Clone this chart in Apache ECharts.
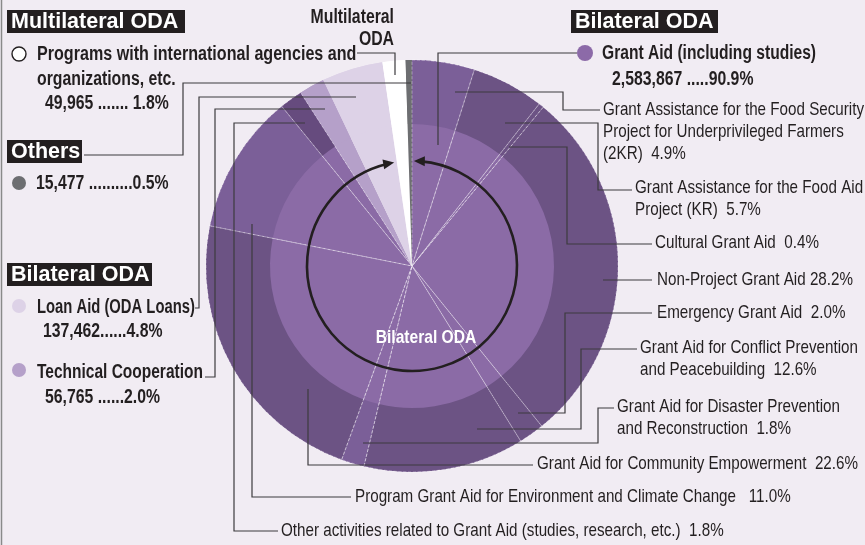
<!DOCTYPE html>
<html>
<head>
<meta charset="utf-8">
<title>ODA breakdown</title>
<script src="https://cdn.jsdelivr.net/npm/echarts@6/dist/echarts.min.js"></script>
<style>
  html, body { margin: 0; padding: 0; background: #f1ecf3; }
  #chart { width: 865px; height: 545px; }
</style>
</head>
<body>
<div id="chart"></div>
<script>
// grant aid breakdown (share of total ODA, %), clockwise from 12 o'clock
const grantNames = [
  "Grant Assistance for the Food Security\nProject for Underprivileged Farmers\n(2KR)",
  "Grant Assistance for the Food Aid\nProject (KR)",
  "Cultural Grant Aid",
  "Non-Project Grant Aid",
  "Emergency Grant Aid",
  "Grant Aid for Conflict Prevention\nand Peacebuilding",
  "Grant Aid for Disaster Prevention\nand Reconstruction",
  "Grant Aid for Community Empowerment",
  "Program Grant Aid for Environment and Climate Change",
  "Other activities related to Grant Aid (studies, research, etc.)"
];
const grantShares = [4.9, 5.7, 0.4, 28.2, 2.0, 12.6, 1.8, 22.6, 11.0, 1.8];

// whole grant aid total
const grantAmount = 2583867;
const grantShare = 90.9;

// remaining slices, continuing clockwise after grant aid
const restNames = ["Technical Cooperation", "Loan Aid (ODA Loans)", "Programs with international agencies and organizations, etc.", "Others"];
const restAmounts = [56765, 137462, 49965, 15477];
const restShares = [2.0, 4.8, 1.8, 0.5];

// ---- styles / layout ----
const CX = 412, CY = 266, R_OUT = 206, R_MID = 142, R_ARROW = 105;
const ink = "#231f20";
const lineCol = "#3d3b3e";
const innerGrant = "#8b6ba6";
const outerGrant = ["#7b5f98", "#6c5384", "#6c5384", "#6c5384", "#6c5384", "#6c5384", "#7b5f98", "#6c5384", "#7b5f98", "#664b7e"];
const restColors = ["#b5a0c9", "#ddd2e7", "#ffffff", "#6d6e71"];

// no narrow font installed, so squeeze the regular one horizontally
const fontReg = '19px "Liberation Sans", Arial, sans-serif';
const fontBold = 'bold 20px "Liberation Sans", Arial, sans-serif';
const fontHead = 'bold 21.5px "Liberation Sans", Arial, sans-serif';
const SQ_REG = 0.80, SQ_BOLD = 0.79;

// label text positions (x, centre y of first line) and gap before the %
const grantLabelPos = [[603, 110], [635, 188], [655, 243], [657, 280], [657, 313], [640, 348], [617, 407], [537, 464], [355, 497], [281, 531]];
const grantGaps = ["  ", "  ", "  ", " ", "  ", "  ", "  ", "  ", "   ", "  "];
// leader routes: label end -> inside the slice
const grantLeaders = [
  [[600, 110], [563, 110], [563, 92], [455, 92]],
  [[632, 190], [598, 190], [598, 123], [505, 123]],
  [[652, 244], [567, 244], [567, 147], [509, 147]],
  [[652, 280], [603, 280]],
  [[652, 313], [565, 313], [565, 413], [518, 413]],
  [[637, 349], [581, 349], [581, 429], [477, 429]],
  [[614, 408], [598, 408], [598, 443], [363, 443]],
  [[533, 465], [308, 465], [308, 389]],
  [[351, 497], [252, 497], [252, 224]],
  [[278, 531], [234, 531], [234, 123], [305, 123]]
];
const restLeaders = [
  [[205, 377], [215, 377], [215, 109], [325, 109]],
  [[195, 308], [199, 308], [199, 97], [356, 97]],
  [[357, 53], [395, 53], [395, 75]],
  [[84, 155], [183, 155], [183, 83], [411, 83]]
];
const grantLeader = [[577, 53], [438, 53], [438, 145]];

const fmt = v => v.toLocaleString("en-US");

// pie data: base pie (inner colour), outer ring, and a border-only overlay for the dividers
const innerData = [], outerData = [], edgeData = [];
grantNames.forEach((n, i) => {
  innerData.push({ name: n, value: grantShares[i], itemStyle: { color: innerGrant } });
  outerData.push({ name: n, value: grantShares[i], itemStyle: { color: outerGrant[i] } });
  edgeData.push({ name: n, value: grantShares[i], itemStyle: { color: "rgba(0,0,0,0)", borderColor: "rgba(255,255,255,0.45)", borderWidth: 0.8, borderType: "dashed" } });
});
restNames.forEach((n, i) => {
  innerData.push({ name: n, value: restShares[i], itemStyle: { color: restColors[i] } });
  outerData.push({ name: n, value: restShares[i], itemStyle: { color: restColors[i] } });
  edgeData.push({ name: n, value: restShares[i], itemStyle: { color: "rgba(0,0,0,0)", borderWidth: 0 } });
});

const sum = a => a.reduce((s, v) => s + v, 0);
const total = sum(grantShares) + sum(restShares);
// bilateral = grant + technical cooperation + loans
const bilateralEnd = (sum(grantShares) + restShares[0] + restShares[1]) / total * 360;

function polar(angDeg, r) {
  const a = angDeg * Math.PI / 180;
  return [CX + r * Math.sin(a), CY - r * Math.cos(a)];
}
function arrowHead(angDeg, dirSign) {
  // dirSign 1 = clockwise, -1 = counter-clockwise
  const tip = polar(angDeg, R_ARROW);
  const a = angDeg * Math.PI / 180;
  const d = [Math.cos(a) * dirSign, Math.sin(a) * dirSign];
  const nrm = [-d[1], d[0]];
  const L = 11, W = 5;
  const b = [tip[0] - d[0] * L, tip[1] - d[1] * L];
  return [tip, [b[0] + nrm[0] * W, b[1] + nrm[1] * W], [b[0] - nrm[0] * W, b[1] - nrm[1] * W]];
}

const graphics = [];
function txt(x, y, text, font, sq, extra) {
  graphics.push({
    type: "text", x: x, y: y, scaleX: sq, silent: true, z: 10,
    style: Object.assign({ text: text, font: font, fill: ink, textAlign: "left", textVerticalAlign: "middle" }, extra || {})
  });
}
function headBox(x, y, w, h, text) {
  graphics.push({ type: "rect", shape: { x: x, y: y, width: w, height: h }, style: { fill: ink }, silent: true, z: 10 });
  txt(x + 4, y + h / 2 + 1, text, fontHead, 1, { fill: "#ffffff" });
}
function dot(x, y, r, fill, stroke) {
  graphics.push({ type: "circle", shape: { cx: x, cy: y, r: r }, style: { fill: fill, stroke: stroke || null, lineWidth: 1.4 }, silent: true, z: 10 });
}
function leader(points) {
  graphics.push({ type: "polyline", shape: { points: points }, style: { stroke: lineCol, lineWidth: 1.2, fill: null }, silent: true, z: 9 });
}

// frame line on the left
graphics.push({ type: "line", shape: { x1: 1.5, y1: 0, x2: 1.5, y2: 545 }, style: { stroke: "#8a8a8a", lineWidth: 1.5 }, silent: true });

// left legend
headBox(7, 10, 178, 23, "Multilateral ODA");
dot(19, 54, 7, "#ffffff", ink);
txt(37, 54, "Programs with international agencies and", fontBold, 0.805);
txt(37, 79, "organizations, etc.", fontBold, SQ_BOLD);
txt(45, 103, fmt(restAmounts[2]) + " ....... " + restShares[2].toFixed(1) + "%", fontBold, SQ_BOLD);

headBox(7, 140, 75, 23, "Others");
dot(19, 183, 7, restColors[3]);
txt(36, 183, fmt(restAmounts[3]) + " .........." + restShares[3].toFixed(1) + "%", fontBold, SQ_BOLD);

headBox(7, 263, 145, 23, "Bilateral ODA");
dot(19, 306, 7, restColors[1]);
txt(37, 307, restNames[1], fontBold, 0.74);
txt(43, 331, fmt(restAmounts[1]) + "......" + restShares[1].toFixed(1) + "%", fontBold, SQ_BOLD);
dot(19, 370, 7, restColors[0]);
txt(37, 372, restNames[0], fontBold, 0.775);
txt(45, 397, fmt(restAmounts[0]) + " ......" + restShares[0].toFixed(1) + "%", fontBold, SQ_BOLD);

// right legend
headBox(571, 10, 147, 23, "Bilateral ODA");
dot(585, 53, 8, "#8c6aa8");
txt(602, 53, "Grant Aid (including studies)", fontBold, 0.78);
txt(612, 79, fmt(grantAmount) + " ....." + grantShare.toFixed(1) + "%", fontBold, SQ_BOLD);

// multilateral label above the pie
txt(394, 17, "Multilateral", fontBold, SQ_BOLD, { textAlign: "right" });
txt(394, 39, "ODA", fontBold, SQ_BOLD, { textAlign: "right" });

// grant aid sub-labels
grantNames.forEach((n, i) => {
  const p = grantLabelPos[i];
  txt(p[0], p[1] - 11, n + grantGaps[i] + grantShares[i].toFixed(1) + "%", fontReg, SQ_REG, { textVerticalAlign: "top", lineHeight: 22 });
  leader(grantLeaders[i]);
});
restLeaders.forEach(leader);
leader(grantLeader);

// bilateral arc with arrowheads at both ends
graphics.push({
  type: "arc", silent: true, z: 8,
  shape: { cx: CX, cy: CY, r: R_ARROW, startAngle: -Math.PI / 2 + 5 * Math.PI / 180, endAngle: -Math.PI / 2 + (bilateralEnd - 5) * Math.PI / 180, clockwise: true },
  style: { stroke: ink, lineWidth: 2.6, fill: null }
});
graphics.push({ type: "polygon", shape: { points: arrowHead(1, -1) }, style: { fill: ink }, silent: true, z: 8 });
graphics.push({ type: "polygon", shape: { points: arrowHead(bilateralEnd - 1.5, 1) }, style: { fill: ink }, silent: true, z: 8 });
txt(426, 338, "Bilateral ODA", 'bold 19px "Liberation Sans", Arial, sans-serif', 0.82, { fill: "#ffffff", textAlign: "center" });

const pieBase = { type: "pie", center: [CX, CY], startAngle: 90, clockwise: true, silent: true, label: { show: false }, labelLine: { show: false } };
const chart = echarts.init(document.getElementById("chart"));
chart.setOption({
  backgroundColor: "#f1ecf3",
  animation: false,
  series: [
    Object.assign({}, pieBase, { radius: [0, R_OUT], data: innerData, z: 1 }),
    Object.assign({}, pieBase, { radius: [R_MID, R_OUT], data: outerData, z: 2 }),
    Object.assign({}, pieBase, { radius: [0, R_OUT], data: edgeData, z: 3 })
  ],
  graphic: graphics
});
</script>
</body>
</html>
